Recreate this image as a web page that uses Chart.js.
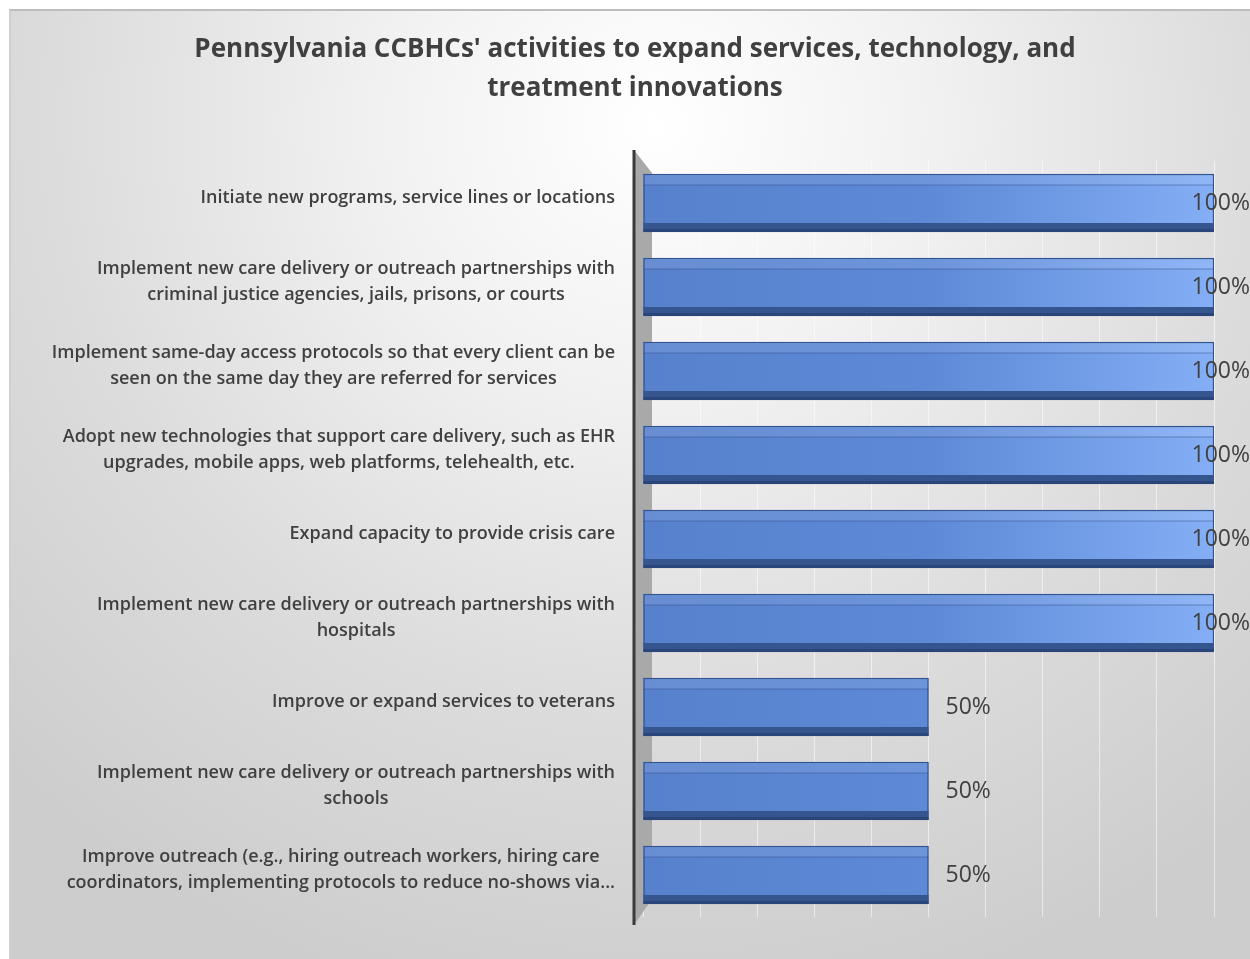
<!DOCTYPE html>
<html>
<head>
<meta charset="utf-8">
<script src="https://cdn.jsdelivr.net/npm/chart.js@4.4.0/dist/chart.umd.min.js"></script>
<style>
  html, body { margin: 0; padding: 0; background: #ffffff; }
  #frame {
    position: absolute; left: 9px; top: 9px; width: 1241px; height: 950px;
    border-top: 2px solid #bdbdbd; border-left: 2px solid #d0d0d0;
    box-sizing: border-box;
    background: radial-gradient(ellipse 75% 95% at 52% 12%, #ffffff 0%, #f1f1f1 30%, #dcdcdc 65%, #cdcdcd 100%);
  }
  #wrap { position: absolute; left: 0; top: 0; width: 1250px; height: 959px; }
</style>
</head>
<body>
<div id="frame"></div>
<div id="wrap"><canvas id="myBarChart" width="1250" height="959"></canvas></div>
<script>
// categories, top to bottom as in the chart
const categories = [
    ["Initiate new programs, service lines or locations"],
    ["Implement new care delivery or outreach partnerships with", "criminal justice agencies, jails, prisons, or courts"],
    ["Implement same-day access protocols so that every client can be", "seen on the same day they are referred for services"],
    ["Adopt new technologies that support care delivery, such as EHR", "upgrades, mobile apps, web platforms, telehealth, etc."],
    ["Expand capacity to provide crisis care"],
    ["Implement new care delivery or outreach partnerships with", "hospitals"],
    ["Improve or expand services to veterans"],
    ["Implement new care delivery or outreach partnerships with", "schools"],
    ["Improve outreach (e.g., hiring outreach workers, hiring care", "coordinators, implementing protocols to reduce no-shows via..."]
];
const shares = [1, 1, 1, 1, 1, 1, 0.5, 0.5, 0.5];
const titleLines = ["Pennsylvania CCBHCs' activities to expand services, technology, and", "treatment innovations"];

const FONT = "'Open Sans', 'DejaVu Sans', sans-serif";
const TEXT = '#404040';
const LABEL_SHIFT = -5;

// grey side wall + dark axis line (3d look)
const wallPlugin = {
    id: 'wall',
    beforeDatasetsDraw(chart) {
        const c = chart.ctx;
        const a = chart.chartArea;
        const ax = a.left - 9;
        c.save();
        c.fillStyle = '#a9a9a9';
        c.beginPath();
        c.moveTo(ax, a.top - 11);
        c.lineTo(ax + 18, a.top + 12);
        c.lineTo(ax + 18, a.bottom - 18);
        c.lineTo(ax, a.bottom + 8);
        c.closePath();
        c.fill();
        c.strokeStyle = '#3a3a3a';
        c.lineWidth = 3;
        c.beginPath();
        c.moveTo(ax, a.top - 11);
        c.lineTo(ax, a.bottom + 8);
        c.stroke();
        c.restore();
    }
};

// top highlight and dark bottom face on each bar, then the value labels
const barPlugin = {
    id: 'barFaces',
    afterDatasetsDraw(chart) {
        const c = chart.ctx;
        const meta = chart.getDatasetMeta(0);
        c.save();
        meta.data.forEach((bar, i) => {
            const left = bar.base;
            const right = bar.x;
            const top = bar.y - bar.height / 2;
            const bottom = bar.y + bar.height / 2;
            // top face
            c.fillStyle = 'rgba(255,255,255,0.10)';
            c.fillRect(left + 1, top + 1, right - left - 2, 10);
            c.strokeStyle = 'rgba(40,70,130,0.45)';
            c.lineWidth = 1;
            c.beginPath();
            c.moveTo(left, top + 11);
            c.lineTo(right, top + 11);
            c.stroke();
            // bottom face
            c.fillStyle = '#35558f';
            c.fillRect(left, bottom - 9, right - left, 9);
            c.fillStyle = 'rgba(20,40,80,0.35)';
            c.fillRect(left, bottom - 3, right - left, 3);
        });
        c.font = "23px " + FONT;
        c.fillStyle = TEXT;
        c.textBaseline = 'middle';
        c.textAlign = 'left';
        meta.data.forEach((bar, i) => {
            const txt = Math.round(shares[i] * 100) + '%';
            const w = c.measureText(txt).width;
            let x = bar.x + 17;
            if (x + w > chart.width) x = chart.width - w;
            c.fillText(txt, x, bar.y);
        });
        c.restore();
    }
};

// category labels: block right aligned, lines centred inside the block
const labelPlugin = {
    id: 'catLabels',
    afterDraw(chart) {
        const c = chart.ctx;
        const yScale = chart.scales.y;
        const right = chart.chartArea.left - 28;
        const lh = 26;
        c.save();
        c.font = "600 18px " + FONT;
        c.fillStyle = TEXT;
        c.textAlign = 'center';
        c.textBaseline = 'middle';
        categories.forEach((lines, i) => {
            const y = yScale.getPixelForValue(i) + LABEL_SHIFT;
            const wmax = Math.max(...lines.map(l => c.measureText(l).width));
            const cx = right - wmax / 2;
            const y0 = y - (lines.length - 1) * lh / 2;
            lines.forEach((l, k) => c.fillText(l, cx, y0 + k * lh));
        });
        c.restore();
    }
};

const ctx = document.getElementById('myBarChart').getContext('2d');
const myBarChart = new Chart(ctx, {
    type: 'bar',
    data: {
        labels: categories,
        datasets: [{
            data: shares,
            backgroundColor: function (context) {
                const area = context.chart.chartArea;
                if (!area) return '#5b87d4';
                const g = context.chart.ctx.createLinearGradient(area.left, 0, area.right, 0);
                g.addColorStop(0, '#5781cd');
                g.addColorStop(0.5, '#5d89d6');
                g.addColorStop(1, '#84aef5');
                return g;
            },
            borderColor: '#2f5597',
            borderWidth: 1.5,
            borderSkipped: false,
            barThickness: 58
        }]
    },
    options: {
        indexAxis: 'y',
        responsive: false,
        animation: false,
        layout: { padding: { left: 56, right: 36, top: 0, bottom: 42 } },
        plugins: {
            legend: { display: false },
            tooltip: { enabled: false },
            title: {
                display: true,
                text: titleLines,
                color: TEXT,
                font: { family: FONT, size: 26, weight: '700', lineHeight: 1.5 },
                padding: { top: 30, bottom: 53 }
            }
        },
        scales: {
            x: {
                min: 0,
                max: 1,
                ticks: { display: false, stepSize: 0.1 },
                border: { display: false },
                grid: { color: 'rgba(255,255,255,0.55)', lineWidth: 1, drawTicks: false },
                afterFit: s => { s.height = 0; }
            },
            y: {
                ticks: { display: false },
                border: { display: false },
                grid: { display: false, drawTicks: false },
                afterFit: s => { s.width = 587; }
            }
        }
    },
    plugins: [wallPlugin, barPlugin, labelPlugin]
});
</script>
</body>
</html>
